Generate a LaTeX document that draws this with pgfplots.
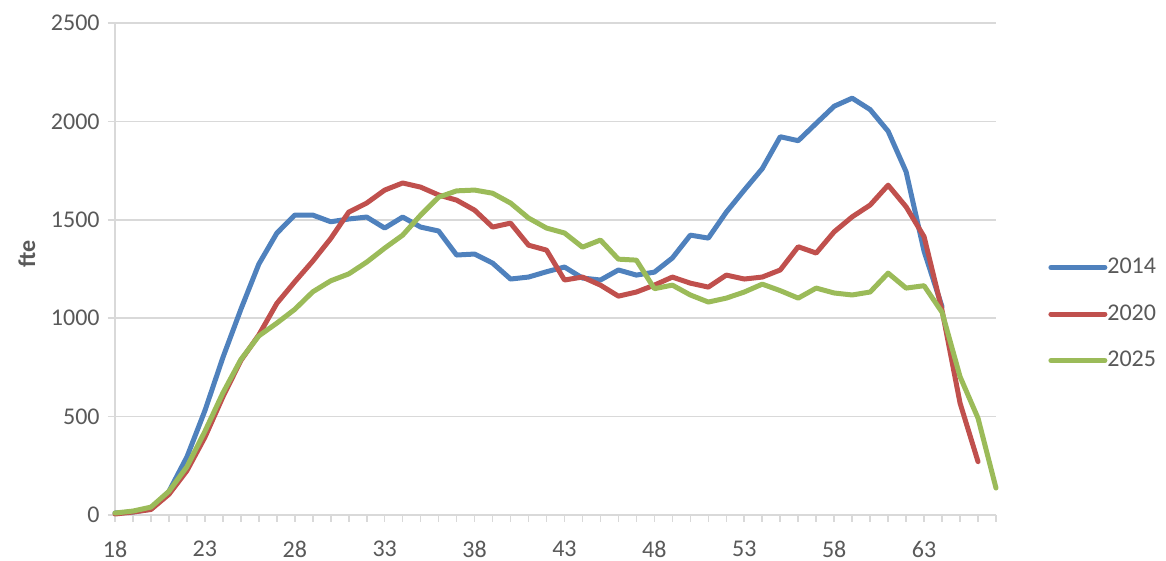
\documentclass[border=0pt]{standalone}
\usepackage{fontspec}
\setmainfont{Carlito}
\usepackage{pgfplots}
\pgfplotsset{compat=1.18}
\definecolor{cBlue}{HTML}{4F81BD}
\definecolor{cRed}{HTML}{C0504D}
\definecolor{cGreen}{HTML}{9BBB59}
\definecolor{cGrid}{HTML}{D9D9D9}
\definecolor{cText}{HTML}{595959}
\begin{document}
\begin{tikzpicture}
\begin{axis}[
  scale only axis,
  width=440.5pt, height=246pt,
  xmin=18, xmax=67, ymin=0, ymax=2500,
  clip=false,
  axis x line*=bottom, axis y line*=left,
  axis line style={cGrid, line width=0.8pt, -},
  xtick={18,23,...,63},
  minor xtick={18,...,67},
  ytick={0,500,...,2500},
  ymajorgrids,
  grid style={cGrid, line width=0.8pt},
  tick align=outside,
  major tick length=3.5pt, minor tick length=3.5pt,
  every tick/.style={cGrid, line width=0.8pt},
  /pgf/number format/assume math mode=true,
  /pgf/number format/1000 sep={},
  tick label style={font=\fontsize{12}{14}\selectfont, text=cText, inner sep=0pt},
  xticklabel style={anchor=north, yshift=-9.5pt},
  yticklabel style={anchor=east, xshift=-4pt},
  ylabel={fte},
  every axis y label/.style={at={(axis description cs:0,0.53)}, rotate=90, anchor=center, yshift=44pt, font=\bfseries\fontsize{12}{14}\selectfont, text=cText},
  legend style={at={(1,0.4085)}, anchor=west, xshift=26pt, draw=none, fill=none, inner sep=0pt, row sep=14pt, font=\fontsize{12}{14}\selectfont, text=cText, nodes={inner sep=0pt, anchor=west}},
  legend cell align=left,
  legend image code/.code={\draw[#1] (0pt,0pt) -- (27pt,0pt);},
  every axis plot/.append style={line width=2.5pt, line join=round, line cap=round, mark=none},
]
\addplot[cBlue] coordinates {
(18,10)(19,15)(20,30)(21,120)(22,295)(23,530)(24,800)(25,1045)(26,1275)(27,1432)
(28,1524)(29,1524)(30,1490)(31,1504)(32,1514)(33,1458)(34,1514)(35,1463)(36,1443)(37,1321)
(38,1326)(39,1280)(40,1199)(41,1209)(42,1236)(43,1260)(44,1204)(45,1194)(46,1245)(47,1219)
(48,1234)(49,1306)(50,1422)(51,1407)(52,1539)(53,1651)(54,1760)(55,1922)(56,1902)(57,1990)
(58,2077)(59,2118)(60,2060)(61,1950)(62,1744)(63,1340)(64,1058)
};
\addlegendentry{2014}
\addplot[cRed] coordinates {
(18,5)(19,15)(20,28)(21,105)(22,225)(23,395)(24,600)(25,785)(26,915)(27,1075)
(28,1185)(29,1290)(30,1405)(31,1539)(32,1585)(33,1651)(34,1687)(35,1666)(36,1626)(37,1600)
(38,1549)(39,1463)(40,1483)(41,1371)(42,1346)(43,1194)(44,1209)(45,1168)(46,1112)(47,1133)
(48,1168)(49,1209)(50,1178)(51,1158)(52,1219)(53,1199)(54,1209)(55,1245)(56,1363)(57,1331)
(58,1439)(59,1515)(60,1575)(61,1676)(62,1566)(63,1414)(64,1040)(65,569)(66,271)
};
\addlegendentry{2020}
\addplot[cGreen] coordinates {
(18,10)(19,20)(20,40)(21,120)(22,245)(23,425)(24,620)(25,790)(26,910)(27,975)
(28,1045)(29,1134)(30,1190)(31,1225)(32,1285)(33,1356)(34,1422)(35,1524)(36,1615)(37,1647)
(38,1651)(39,1635)(40,1585)(41,1509)(42,1458)(43,1433)(44,1361)(45,1397)(46,1300)(47,1295)
(48,1150)(49,1168)(50,1118)(51,1082)(52,1102)(53,1133)(54,1173)(55,1140)(56,1102)(57,1153)
(58,1128)(59,1118)(60,1133)(61,1229)(62,1153)(63,1165)(64,1030)(65,703)(66,492)(67,137)
};
\addlegendentry{2025}
\end{axis}
\path (current axis.south west) ++(-57.5pt,-23pt) rectangle ++(583pt,280.5pt);
\end{tikzpicture}
\end{document}
